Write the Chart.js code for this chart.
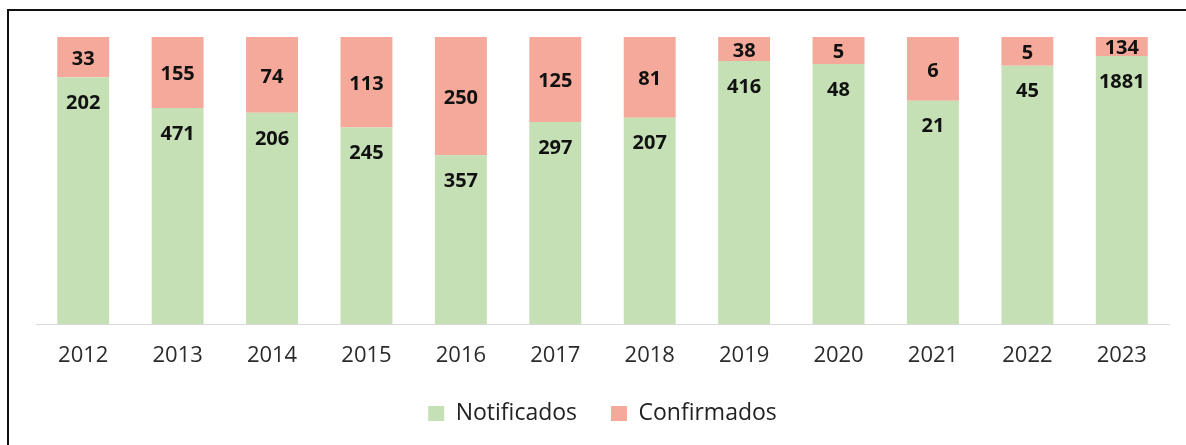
<!DOCTYPE html>
<html>
<head>
<meta charset="utf-8">
<script src="https://cdn.jsdelivr.net/npm/chart.js@4/dist/chart.umd.min.js"></script>
<style>
  body { margin: 0; background: #fff; }
  #wrap { position: relative; width: 1186px; height: 445px; }
  #frame {
    position: absolute; left: 7px; top: 9px; right: 0; bottom: 0;
    border-top: 2px solid #111; border-left: 2px solid #111;
    pointer-events: none;
  }
</style>
</head>
<body>
<div id="wrap">
  <canvas id="chart" width="1186" height="445"></canvas>
  <div id="frame"></div>
</div>
<script>
const years = ["2012", "2013", "2014", "2015", "2016", "2017", "2018", "2019", "2020", "2021", "2022", "2023"];
const notificados = [202, 471, 206, 245, 357, 297, 207, 416, 48, 21, 45, 1881];
const confirmados = [33, 155, 74, 113, 250, 125, 81, 38, 5, 6, 5, 134];

// 100% stacked: share of each year's total
const pctNotif = notificados.map((n, i) => n / (n + confirmados[i]) * 100);
const pctConf = confirmados.map((c, i) => c / (notificados[i] + c) * 100);
const rawValues = [notificados, confirmados];

const barLabels = {
    id: "barLabels",
    afterDatasetsDraw(chart) {
        const ctx = chart.ctx;
        ctx.save();
        ctx.font = "bold 20px 'Open Sans'";
        ctx.fillStyle = "#111";
        ctx.textAlign = "center";
        ctx.textBaseline = "middle";
        chart.data.datasets.forEach((ds, d) => {
            chart.getDatasetMeta(d).data.forEach((bar, i) => {
                const y = d === 0 ? bar.y + 26 : (bar.y + bar.base) / 2 + 2;
                ctx.fillText(String(rawValues[d][i]), bar.x, y);
            });
        });
        ctx.restore();
    },
};

const ctx = document.getElementById("chart");

new Chart(ctx, {
    type: "bar",
    data: {
        labels: years,
        datasets: [
            {
                label: "Notificados" + " ".repeat(4),
                data: pctNotif,
                backgroundColor: "#C5E0B4",
                barPercentage: 0.55,
                categoryPercentage: 1,
            },
            {
                label: "Confirmados",
                data: pctConf,
                backgroundColor: "#F4A99A",
                barPercentage: 0.55,
                categoryPercentage: 1,
            },
        ],
    },
    options: {
        responsive: false,
        animation: false,
        layout: {
            padding: { top: 37, left: 36, right: 17, bottom: 10 },
        },
        scales: {
            x: {
                stacked: true,
                grid: { drawOnChartArea: false, drawTicks: false },
                border: { color: "#D9D9D9", width: 1 },
                ticks: {
                    padding: 19,
                    color: "#2b2b2b",
                    font: { family: "'Open Sans'", size: 22 },
                },
                afterFit(axis) {
                    axis.height = 68;
                },
            },
            y: {
                stacked: true,
                display: false,
                min: 0,
                max: 100,
            },
        },
        plugins: {
            legend: {
                position: "bottom",
                labels: {
                    boxWidth: 16,
                    boxHeight: 15,
                    padding: 10,
                    color: "#222",
                    font: { family: "'Open Sans'", size: 23 },
                },
            },
            tooltip: { enabled: false },
        },
    },
    plugins: [barLabels],
});
</script>
</body>
</html>
